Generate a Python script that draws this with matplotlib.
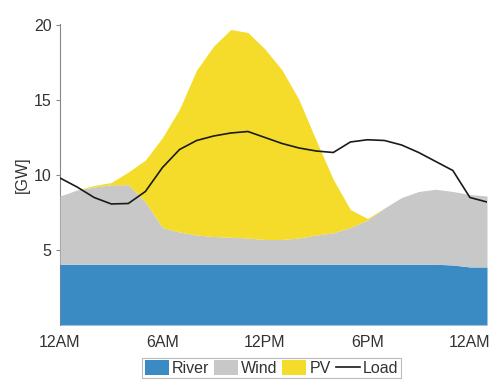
import matplotlib
matplotlib.use("Agg")
import matplotlib.pyplot as plt
from matplotlib.patches import Patch
from matplotlib.lines import Line2D
import numpy as np

plt.rcParams['font.family'] = ['Liberation Sans', 'DejaVu Sans']

hours = list(range(26))
river = [4.05]*23 + [4.0, 3.87, 3.87]
wind_top = [8.6, 9.0, 9.2, 9.35, 9.35, 8.2, 6.5, 6.2, 6.0, 5.9, 5.85, 5.8, 5.7,
            5.7, 5.8, 6.0, 6.15, 6.5, 7.0, 7.8, 8.5, 8.9, 9.05, 8.9, 8.7, 8.6]
wind = [w - r for w, r in zip(wind_top, river)]
pv = [0, 0, 0.1, 0.15, 0.85, 2.8, 6.0, 8.2, 11.0, 12.7, 13.85, 13.7, 12.7,
      11.3, 9.2, 6.3, 3.55, 1.2, 0.1, 0, 0, 0, 0, 0, 0, 0]
load = [9.8, 9.2, 8.5, 8.07, 8.1, 8.9, 10.5, 11.7, 12.3, 12.6, 12.8, 12.9, 12.5,
        12.1, 11.8, 11.6, 11.5, 12.2, 12.35, 12.3, 12.0, 11.5, 10.9, 10.3, 8.5, 8.2]
xticks = [0, 6, 12, 18, 24]
xticklabels = ['12AM', '6AM', '12PM', '6PM', '12AM']
yticks = [5, 10, 15, 20]

c_river = '#3a8bc4'
c_wind = '#c8c8c8'
c_pv = '#f5dc2a'

fig = plt.figure(figsize=(4.92, 3.80), dpi=100)
ax = fig.add_axes([60/492, 55/380, 427/492, (325-23.5)/380])

h = np.array(hours)
r = np.array(river)
w = np.array(wind)
p = np.array(pv)
ax.fill_between(h, 0, r, color=c_river, lw=0, zorder=3)
ax.fill_between(h, r, r + w, color=c_wind, lw=0, zorder=3)
ax.fill_between(h, r + w, r + w + p, color=c_pv, lw=0, zorder=3)
ax.plot(h, load, color='#1a1a1a', lw=1.2, zorder=4)

ax.set_xlim(0, 25)
ax.set_ylim(0, 20.1)
ax.set_xticks(xticks)
ax.set_xticklabels(xticklabels)
ax.set_yticks(yticks)
for s in ['top', 'right', 'bottom']:
    ax.spines[s].set_visible(False)
ax.spines['left'].set_color('#888888')
ax.spines['left'].set_linewidth(0.8)
ax.tick_params(axis='x', length=0, pad=7, labelsize=11.5, labelcolor='#333333')
ax.tick_params(axis='y', direction='out', length=3, width=0.8, color='#888888',
               pad=3, labelsize=11.5, labelcolor='#333333')
ax.set_ylabel('[GW]', fontsize=11.5, color='#333333', labelpad=3)

handles = [Patch(facecolor=c_river, edgecolor='none', label='River'),
           Patch(facecolor=c_wind, edgecolor='none', label='Wind'),
           Patch(facecolor=c_pv, edgecolor='none', label='PV'),
           Line2D([0], [0], color='#1a1a1a', lw=1.2, label='Load')]
leg = fig.legend(handles=handles, loc='upper center', bbox_to_anchor=(271.5/492, 1 - 358/380),
                 ncol=4, fontsize=11.5, frameon=True, fancybox=False, handlelength=1.5,
                 handleheight=1.0, handletextpad=0.2, columnspacing=0.3, borderpad=0.15,
                 borderaxespad=0)
leg.get_frame().set_edgecolor('#aaaaaa')
leg.get_frame().set_linewidth(0.8)
for t in leg.get_texts():
    t.set_color('#333333')

fig.savefig('out.png', dpi=100)
